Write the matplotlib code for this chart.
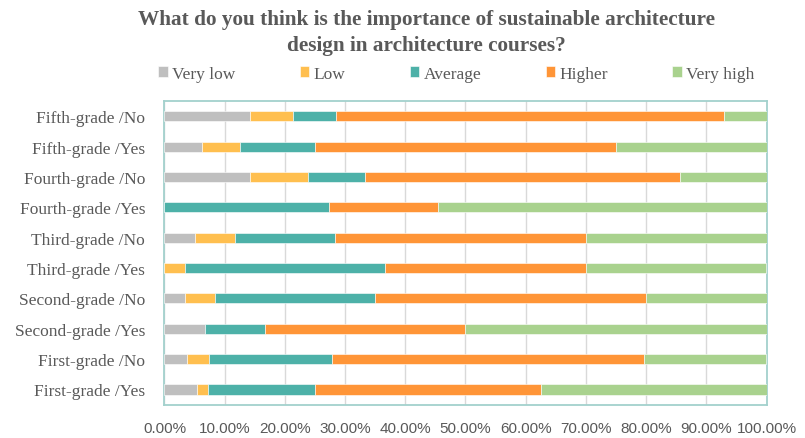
import numpy as np
import matplotlib.pyplot as plt
from matplotlib.ticker import FuncFormatter

# survey groups, top to bottom as shown
categories = ["Fifth-grade /No", "Fifth-grade /Yes", "Fourth-grade /No", "Fourth-grade /Yes",
              "Third-grade /No", "Third-grade /Yes", "Second-grade /No", "Second-grade /Yes",
              "First-grade /No", "First-grade /Yes"]
levels = ["Very low", "Low", "Average", "Higher", "Very high"]

# share of answers (%)
very_low = [14.29, 6.25, 14.29, 0.00, 5.00, 0.00, 3.33, 6.67, 3.70, 5.36]
low = [7.14, 6.25, 9.52, 0.00, 6.67, 3.33, 5.00, 0.00, 3.70, 1.79]
average = [7.14, 12.50, 9.52, 27.27, 16.67, 33.33, 26.67, 10.00, 20.37, 17.86]
higher = [64.29, 50.00, 52.38, 18.18, 41.67, 33.33, 45.00, 33.33, 51.85, 37.50]
very_high = [7.14, 25.00, 14.29, 54.55, 30.00, 30.00, 20.00, 50.00, 20.37, 37.50]

colors = ["#BFBFBF", "#FFBF4F", "#4DB1A8", "#FF9537", "#A9D28E"]
text_grey = "#595959"
serif = ["Liberation Serif", "DejaVu Serif"]

fig = plt.figure(figsize=(8.05, 4.39), dpi=100)
ax = fig.add_axes([0.2043, 0.0759, 0.7479, 0.6918])

y = np.arange(len(categories))
left = np.zeros(len(categories))
for name, vals, c in zip(levels, [very_low, low, average, higher, very_high], colors):
    vals = np.array(vals)
    ax.barh(y, vals, left=left, height=0.33, color=c, label=name, zorder=3,
            edgecolor="white", linewidth=0.4)
    left += vals

ax.set_xlim(0, 100)
ax.set_ylim(len(categories) - 0.5, -0.5)
ax.set_xticks(np.arange(0, 101, 10))
ax.xaxis.set_major_formatter(FuncFormatter(lambda v, p: f"{v:.2f}%"))
ax.set_yticks(y)
ax.set_yticklabels(categories, family=serif, fontsize=12.5, color=text_grey)
for lab in ax.get_xticklabels():
    lab.set_family(["Liberation Sans", "DejaVu Sans"])
    lab.set_fontsize(11)
    lab.set_color(text_grey)
ax.tick_params(axis="y", length=0, pad=14)
ax.tick_params(axis="x", length=0, pad=12)
ax.grid(axis="x", color="#D9D9D9", linewidth=1, zorder=0)
for s in ax.spines.values():
    s.set_color("#A3D1CD")
    s.set_linewidth(1.3)

fig.text(0.53, 0.925, "What do you think is the importance of sustainable architecture\ndesign in architecture courses?",
         ha="center", va="center", family=serif, fontweight="bold", fontsize=15.3,
         color=text_grey, linespacing=1.45)

fig.legend(loc="center", bbox_to_anchor=(0.567, 0.83), ncol=5, frameon=False,
           prop={"family": serif, "size": 12.5}, labelcolor=text_grey,
           handlelength=0.55, handleheight=0.55, handletextpad=0.25, columnspacing=3.7)

fig.savefig("out.png", dpi=100)
